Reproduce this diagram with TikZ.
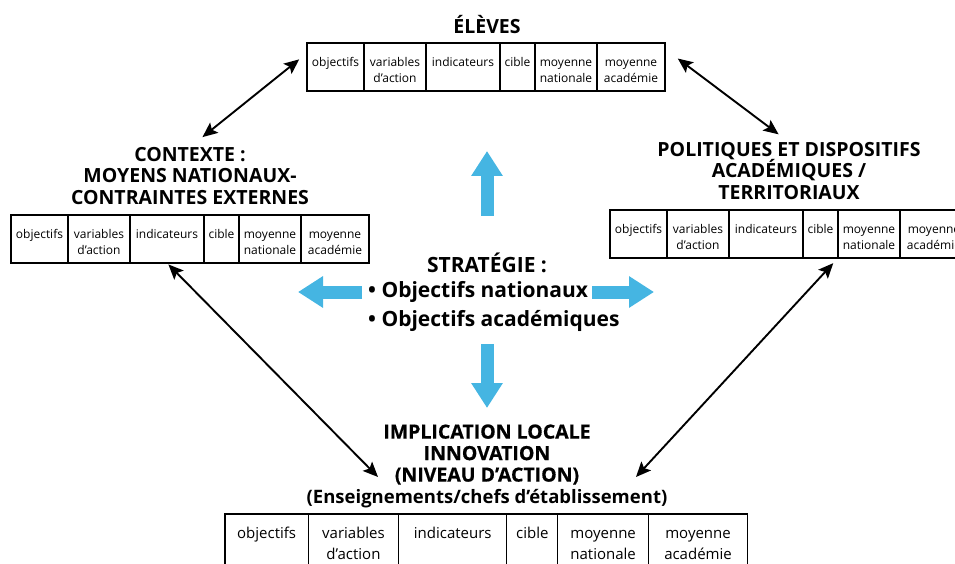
\documentclass[tikz,border=0pt]{standalone}
\usepackage{fontspec}
\setmainfont{Open Sans}
\newfontfamily\medfont[FakeBold=0.5]{Open Sans}
\usetikzlibrary{positioning,arrows.meta}
\definecolor{stratblue}{RGB}{69,181,226}
\tikzset{
  cell/.style={draw, line width=1.1pt, inner sep=0pt, outer sep=0pt},
  celltext/.style={align=center, inner sep=0pt},
  head/.style={align=center, inner sep=0pt, font=\bfseries\fontsize{19.5}{21.5}\selectfont},
  linkarrow/.style={{Stealth[length=15pt,width=13pt,inset=3pt]}-{Stealth[length=15pt,width=13pt,inset=3pt]}, line width=1.9pt},
  stratarrow/.style={stratblue, line width=13pt, -{Triangle[length=25pt,width=30pt]}},
}
% one row of criteria: #1 name, #2 top left, #3 scale, #4 font, #5 text drop
\newcommand{\critgrid}[5]{%
  \foreach \txt/\w [count=\i] in {objectifs/57,{variables\\d’action}/62,indicateurs/74,cible/35,{moyenne\\nationale}/62,{moyenne\\académie}/68}{
    \ifnum\i=1
      \node[cell, minimum width=#3*\w, minimum height=#3*48, anchor=north west] (#1-\i) at (#2) {};
    \else
      \pgfmathtruncatemacro\prev{\i-1}
      \node[cell, minimum width=#3*\w, minimum height=#3*48, right=0pt of #1-\prev] (#1-\i) {};
    \fi
    \node[celltext, font=#4, anchor=north, yshift=-#5] at (#1-\i.north) {\strut\txt};
  }
}
\begin{document}
\begin{tikzpicture}[x=1pt,y=-1pt]
\useasboundingbox (0,0) rectangle (955,564);
% tables
\critgrid{elv}{307,43}{1}{\fontsize{12}{16}\selectfont}{11.8pt}
\critgrid{ctx}{11,215}{1}{\fontsize{12}{16}\selectfont}{11.8pt}
\critgrid{pol}{610,210}{1}{\fontsize{12}{16}\selectfont}{11.8pt}
\critgrid{loc}{225,514}{1.46}{\fontsize{15}{21}\selectfont}{9.3pt}

% headings
\node[head] (elvhead) at (487,25) {ÉLÈVES};
\node[head] (ctxhead) at (190,176) {CONTEXTE :\\MOYENS NATIONAUX-\\CONTRAINTES EXTERNES};
\node[head] (polhead) at (789,171) {POLITIQUES ET DISPOSITIFS\\ACADÉMIQUES /\\TERRITORIAUX};
\node[head, font=\bfseries\fontsize{18.5}{21.5}\selectfont] (lochead) at (487,466) {\medfont\fontsize{19.5}{21.5}\selectfont IMPLICATION LOCALE\\\medfont\fontsize{19.5}{21.5}\selectfont INNOVATION\\\medfont\fontsize{19.5}{21.5}\selectfont (NIVEAU D’ACTION)\\(Enseignements/chefs d’établissement)};

% strategy
\node[head, font=\bfseries\fontsize{21}{29}\selectfont] (strat) at (487,263) {STRATÉGIE :};
\node[head, font=\bfseries\fontsize{21}{29}\selectfont, anchor=west] (natobj) at (368,292) {• Objectifs nationaux};
\node[head, font=\bfseries\fontsize{21}{29}\selectfont, anchor=west] (acaobj) at (368,321) {• Objectifs académiques};

\coordinate (upend) at (487,151);
\coordinate (leftend) at (298,292);
\coordinate (rightend) at (654,292);
\coordinate (downend) at (487,408);
\draw[stratarrow] ([yshift=37pt]strat.north) -- (upend);
\draw[stratarrow] ([xshift=-6pt]natobj.west) -- (leftend);
\draw[stratarrow] ([xshift=4pt]natobj.east) -- (rightend);
\draw[stratarrow] ([yshift=-12pt]acaobj.south -| strat) -- (downend);

% links
\coordinate (locleft) at (378,477);
\coordinate (locright) at (636,477);
\draw[linkarrow, shorten <=10pt, shorten >=16pt] (elv-1.154) -- (ctxhead.north);
\draw[linkarrow, shorten <=16pt, shorten >=13pt] (elv-6.28) -- (polhead.north);
\draw[linkarrow, shorten <=2pt] (ctx-3.south) -- (locleft);
\draw[linkarrow, shorten <=7pt] (pol-5.south west) -- (locright);
\end{tikzpicture}
\end{document}
